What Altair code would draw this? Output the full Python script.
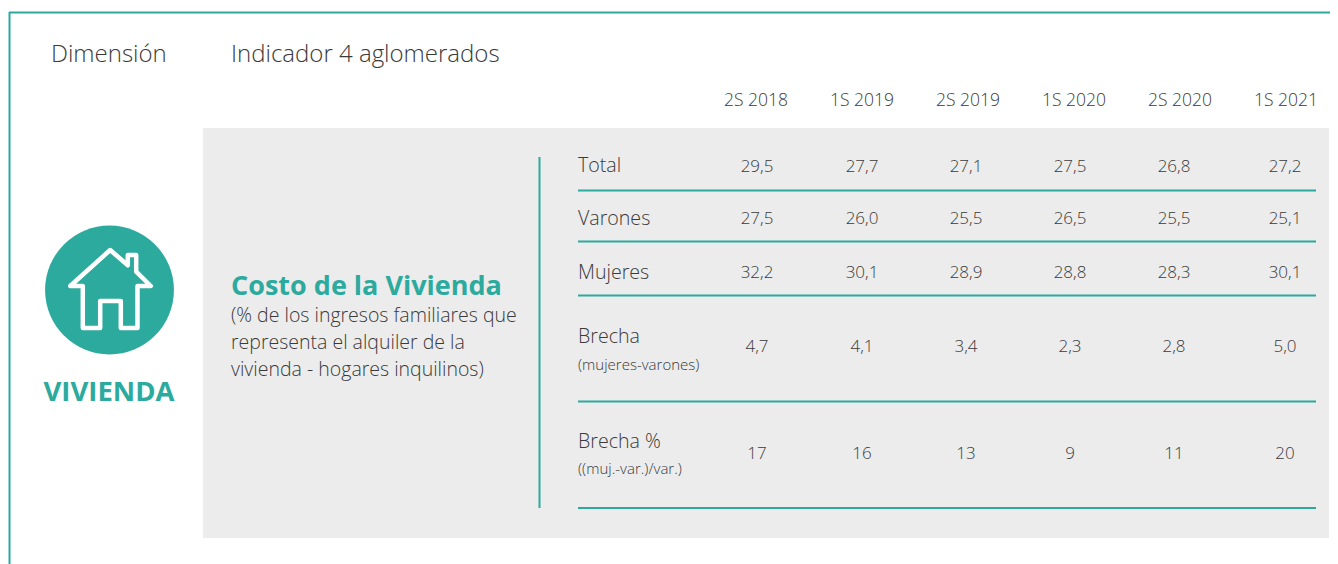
import altair as alt
import pandas as pd

periods = ["2S 2018", "1S 2019", "2S 2019", "1S 2020", "2S 2020", "1S 2021"]
row_names = ["Total", "Varones", "Mujeres", "Brecha", "Brecha %"]
row_notes = ["", "", "", "(mujeres-varones)", "((muj.-var.)/var.)"]
total = ["29,5", "27,7", "27,1", "27,5", "26,8", "27,2"]
varones = ["27,5", "26,0", "25,5", "26,5", "25,5", "25,1"]
mujeres = ["32,2", "30,1", "28,9", "28,8", "28,3", "30,1"]
brecha = ["4,7", "4,1", "3,4", "2,3", "2,8", "5,0"]
brecha_pct = ["17", "16", "13", "9", "11", "20"]
description = ["(% de los ingresos familiares que",
               "representa el alquiler de la",
               "vivienda - hogares inquilinos)"]

TEAL = "#2DAA9E"
INK = "#3A3A3A"
GREY = "#ECECEC"
FONT = "Open Sans"
OFF = 8


def px(v):
    return alt.value(v - OFF)


rows = [total, varones, mujeres, brecha, brecha_pct]
cells = pd.DataFrame([
    {"col": c, "row": r, "value": rows[r][c]}
    for r in range(len(rows)) for c in range(len(periods))
])
head = pd.DataFrame({"period": periods})
labels = pd.DataFrame({"row": range(5), "name": row_names})
notes = pd.DataFrame({"row": [3, 4], "note": row_notes[3:]})
desc = pd.DataFrame({"line": range(3), "t": description})

col_scale = alt.Scale(domain=list(range(6)),
                      range=[x - OFF for x in [757, 862, 966, 1070, 1174, 1285]])
row_scale = alt.Scale(domain=list(range(5)),
                      range=[y - OFF for y in [167, 219, 273, 347, 454]])
label_scale = alt.Scale(domain=list(range(5)),
                        range=[y - OFF for y in [166, 219, 273, 337, 442]])
note_scale = alt.Scale(domain=[3, 4], range=[365 - OFF, 469 - OFF])
line_scale = alt.Scale(domain=[0, 2], range=[316 - OFF, 370 - OFF])
head_scale = alt.Scale(domain=periods, range=[756 - OFF, 1286 - OFF], padding=0)


def rule_h(y, x1, x2, w=2):
    return alt.Chart().mark_rule(color=TEAL, strokeWidth=w).encode(
        x=px(x1), x2=px(x2), y=px(y))


def label(text, x, y, size, weight=300, color=INK, align="left", font=FONT):
    return alt.Chart().mark_text(text=text, fontSize=size, fontWeight=weight, color=color,
                                 align=align, baseline="middle", font=font).encode(
        x=px(x), y=px(y))


layers = [
    alt.Chart().mark_rect(color=GREY).encode(x=px(203), x2=px(1329), y=px(128), y2=px(538)),
    rule_h(12.5, 9, 1338),
    alt.Chart().mark_rule(color=TEAL, strokeWidth=2).encode(x=px(9.5), y=px(12), y2=px(564)),
    alt.Chart().mark_rule(color=TEAL, strokeWidth=2).encode(x=px(539.5), y=px(157), y2=px(508)),
]
for yy in [190.5, 241.5, 295.5, 401.5, 508]:
    layers.append(rule_h(yy, 578, 1316))

circle = alt.Chart().mark_point(filled=True, color=TEAL, size=16600, shape="circle", opacity=1).encode(
    x=px(109.5), y=px(290))
HOUSE = ("M0.7,-40 L18.3,-24.7 L18.3,-35 L26.7,-35 L26.7,-18.3 L41.3,-4 L28,-4 L28,38 "
         "L11.3,38 L11.3,11 L-9.3,11 L-9.3,38 L-26.7,38 L-26.7,-4 L-39.3,-4 Z")
house = alt.Chart().mark_point(shape=HOUSE, filled=False, stroke="#FFFFFF", strokeWidth=4.5,
                               strokeJoin="round", size=4, opacity=1).encode(
    x=px(109.5), y=px(290))
layers += [circle, house]

layers += [
    label("Dimensión", 51, 55, 24),
    label("Indicador 4 aglomerados", 231, 55, 24),
    label("VIVIENDA", 109, 392.5, 27.5, 700, TEAL, "center"),
    label("Costo de la Vivienda", 231, 286.5, 27, 700, TEAL),
]

layers += [
    alt.Chart(head).mark_text(fontSize=17.5, fontWeight=300, color=INK, font=FONT).encode(
        x=alt.X("period:N", scale=head_scale, sort=periods, axis=None), y=px(101), text="period:N"),
    alt.Chart(cells).mark_text(fontSize=17, fontWeight=300, color=INK, font=FONT).encode(
        x=alt.X("col:Q", scale=col_scale, axis=None),
        y=alt.Y("row:Q", scale=row_scale, axis=None),
        text="value:N"),
    alt.Chart(labels).mark_text(fontSize=19.6, fontWeight=300, color=INK, font=FONT, align="left").encode(
        x=px(578), y=alt.Y("row:Q", scale=label_scale, axis=None), text="name:N"),
    alt.Chart(notes).mark_text(fontSize=15, fontWeight=300, color=INK, font=FONT, align="left").encode(
        x=px(578), y=alt.Y("row:Q", scale=note_scale, axis=None), text="note:N"),
    alt.Chart(desc).mark_text(fontSize=19.5, fontWeight=300, color=INK, font=FONT, align="left").encode(
        x=px(231), y=alt.Y("line:Q", scale=line_scale, axis=None), text="t:N"),
]

chart = alt.layer(*layers).resolve_scale(x="independent", y="independent").properties(
    width=1322, height=556, padding=0, background="#FFFFFF",
    autosize=alt.AutoSizeParams(type="none")
).configure_view(stroke=None)

chart.save("out.html", embed_options={"renderer": "svg", "actions": False})
